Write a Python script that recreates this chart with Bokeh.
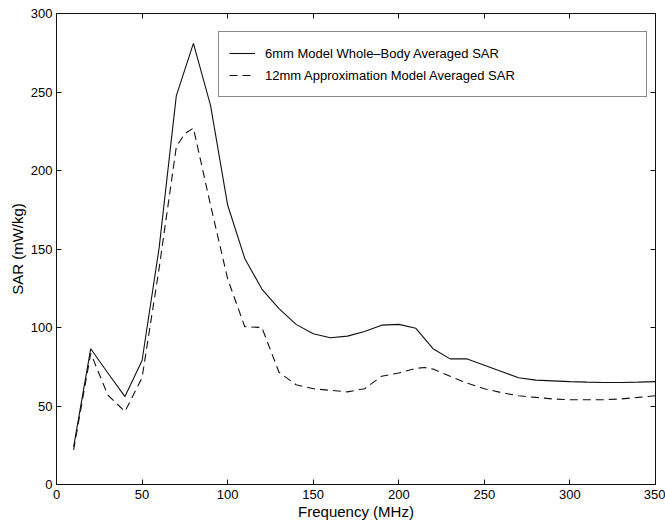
from bokeh.plotting import figure
from bokeh.models import LinearAxis, Legend, LegendItem, Range1d, FixedTicker
from bokeh.embed import file_html
from bokeh.resources import INLINE

# Data
freq_solid = [10, 20, 30, 40, 50, 60, 70, 80, 90, 100, 110, 120, 130, 140, 150, 160, 170, 180,
              190, 200, 210, 220, 230, 240, 250, 260, 270, 280, 290, 300, 310, 320, 330, 340, 350]
sar_6mm = [24, 86.5, 71, 56, 79, 151, 247.5, 281, 241.5, 178, 144, 124.5, 112, 102, 96, 93.5, 94.5, 97.5,
           101.5, 102, 99.5, 86.5, 80, 80, 76, 72, 68, 66.5, 66, 65.5, 65.2, 65, 65, 65.2, 65.5]

freq_dash = [10, 20, 30, 40, 50, 60, 70, 75, 80, 90, 100, 110, 120, 130, 140, 150, 160, 170, 180,
             190, 200, 210, 215, 220, 230, 240, 250, 260, 270, 280, 290, 300, 310, 320, 330, 340, 350]
sar_12mm = [22, 83.5, 57, 46.5, 68, 138, 215, 223.5, 227, 178, 131, 100.5, 100, 71.5, 63.5, 61, 60, 59, 61,
            69, 71, 74, 74.5, 73.5, 69, 64.5, 61, 58.5, 56.5, 55.5, 54.5, 54, 54, 54, 54.5, 55.5, 56.5]

x_ticks = [0, 50, 100, 150, 200, 250, 300, 350]
y_ticks = [0, 50, 100, 150, 200, 250, 300]

legend_labels = ["6mm Model Whole\u2013Body Averaged SAR",
                 "12mm Approximation Model Averaged SAR"]

FONT = "Liberation Sans"
INK = "#111111"

p = figure(width=665, height=523, output_backend="svg", toolbar_location=None,
           x_range=Range1d(0, 350), y_range=Range1d(0, 300),
           min_border_left=56, min_border_right=10, min_border_top=13, min_border_bottom=39)
p.xgrid.visible = False
p.ygrid.visible = False
p.background_fill_color = "white"
p.border_fill_color = "white"
p.outline_line_color = INK
p.outline_line_width = 1

r1 = p.line(freq_solid, sar_6mm, line_color=INK, line_width=1.1)
r2 = p.line(freq_dash, sar_12mm, line_color=INK, line_width=1.1, line_dash="8 5")


def common(ax):
    ax.axis_line_color = INK
    ax.major_tick_line_color = INK
    ax.major_tick_in = 5
    ax.major_tick_out = 0
    ax.minor_tick_in = 0
    ax.minor_tick_out = 0
    ax.major_label_text_font = FONT
    ax.major_label_text_font_size = "13px"
    ax.major_label_text_color = "black"
    ax.axis_label_text_font = FONT
    ax.axis_label_text_font_size = "15px"
    ax.axis_label_text_font_style = "normal"
    ax.axis_label_text_color = "black"


xa = p.xaxis[0]
ya = p.yaxis[0]
xa.ticker = FixedTicker(ticks=x_ticks)
ya.ticker = FixedTicker(ticks=y_ticks)
common(xa)
common(ya)
xa.axis_label = "Frequency (MHz)"
ya.axis_label = "SAR (mW/kg)"
xa.major_label_standoff = 5
ya.major_label_standoff = 4
xa.axis_label_standoff = 1
ya.axis_label_standoff = 2

# box axes (ticks only, no labels) on top and right
top = LinearAxis(ticker=FixedTicker(ticks=x_ticks))
right = LinearAxis(ticker=FixedTicker(ticks=y_ticks))
for ax in (top, right):
    common(ax)
    ax.major_label_text_font_size = "0px"
    ax.major_label_text_color = None
    ax.major_label_text_alpha = 0
    ax.major_label_standoff = 0
    ax.axis_label = None
p.add_layout(top, "above")
p.add_layout(right, "right")

legend = Legend(items=[LegendItem(label=legend_labels[0], renderers=[r1]),
                       LegendItem(label=legend_labels[1], renderers=[r2])],
                location=(162, 387))
legend.border_line_color = INK
legend.border_line_width = 1
legend.background_fill_color = "white"
legend.background_fill_alpha = 1
legend.padding = 10
legend.margin = 0
legend.spacing = 0
legend.glyph_width = 26
legend.glyph_height = 22
legend.label_height = 22
legend.label_width = 371
legend.label_standoff = 10
legend.label_text_font = FONT
legend.label_text_font_size = "13px"
legend.label_text_color = "black"
p.add_layout(legend, "center")

open("out.html", "w").write(file_html(p, INLINE))
